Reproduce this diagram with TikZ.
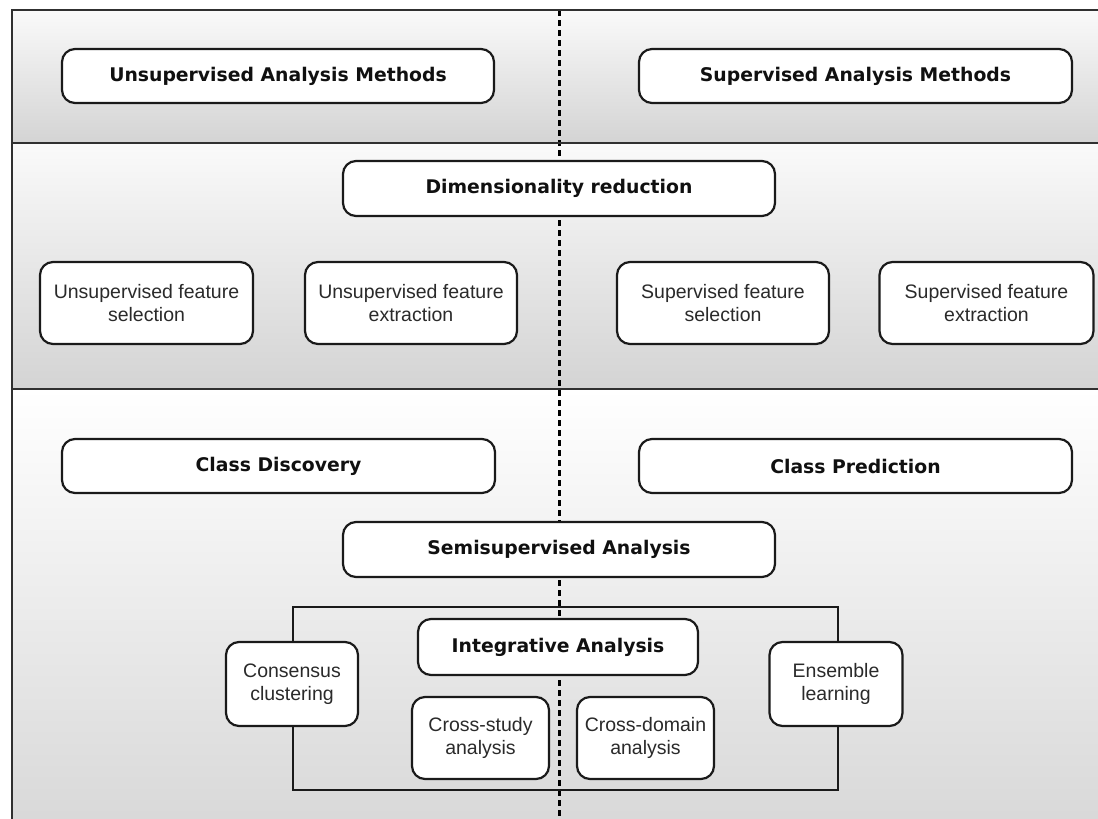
\documentclass[tikz,border=0pt]{standalone}
\usepackage{fontspec}
\newfontfamily\hdfont{DejaVu Sans}
\newfontfamily\txfont{Liberation Sans}
\definecolor{framec}{HTML}{303030}
\definecolor{boxline}{HTML}{1A1A1A}
\definecolor{txtc}{HTML}{101010}
\definecolor{rtxt}{HTML}{2A2A2A}
\tikzset{
  hbox/.style={draw=boxline, line width=2.2pt, fill=white, rounded corners=13pt,
    inner sep=0pt, align=center, text=txtc,
    font=\hdfont\bfseries\fontsize{18.8}{22}\selectfont},
  tbox/.style={draw=boxline, line width=2.2pt, fill=white, rounded corners=13pt,
    inner sep=0pt, align=center, text=rtxt,
    font=\txfont\fontsize{19.5}{22.5}\selectfont},
  frameline/.style={draw=framec, line width=2.8pt},
  divline/.style={draw=black, line width=3pt, dash pattern=on 6pt off 4pt}
}
\begin{document}
\begin{tikzpicture}[x=1pt,y=-1pt]
\useasboundingbox (0,0) rectangle (1098,819);
% bands
\shade[top color=black!2, bottom color=black!17] (12,10) rectangle (1098,143);
\shade[top color=black!2, bottom color=black!17] (12,143) rectangle (1098,389);
\shade[top color=white, bottom color=black!15] (12,389) rectangle (1098,819);
% dividing dashed line
\coordinate (dtop) at (559,10);
\coordinate (dbot) at (559,819);
\draw[divline] (dtop) -- (dbot);
% frame and separators
\coordinate (fl) at (12,819);
\coordinate (ftl) at (12,10);
\coordinate (ftr) at (1098,10);
\coordinate (s1l) at (12,143);
\coordinate (s1r) at (1098,143);
\coordinate (s2l) at (12,389);
\coordinate (s2r) at (1098,389);
\draw[frameline] (fl) -- (ftl) -- (ftr);
\draw[frameline] (s1l) -- (s1r);
\draw[frameline] (s2l) -- (s2r);
% band 1
\node[hbox, minimum width=432pt, minimum height=54pt] (uam) at (278,76) {Unsupervised Analysis Methods};
\node[hbox, minimum width=433pt, minimum height=54pt] (sam) at (855.5,76) {Supervised Analysis Methods};
% band 2
\node[hbox, minimum width=432pt, minimum height=55pt] (dim) at (559,188.5) {Dimensionality reduction};
\node[tbox, minimum width=213pt, minimum height=82pt] (ufs) at (146.5,303) {Unsupervised feature\\selection};
\node[tbox, minimum width=212pt, minimum height=82pt] (ufe) at (411,303) {Unsupervised feature\\extraction};
\node[tbox, minimum width=212pt, minimum height=82pt] (sfs) at (723,303) {Supervised feature\\selection};
\node[tbox, minimum width=214pt, minimum height=82pt] (sfe) at (986.5,303) {Supervised feature\\extraction};
% band 3
\node[hbox, minimum width=433pt, minimum height=54pt] (cd) at (278.5,466) {Class Discovery};
\node[hbox, minimum width=433pt, minimum height=54pt] (cp) at (855.5,466) {Class Prediction};
\node[hbox, minimum width=432pt, minimum height=55pt] (semi) at (559,549.5) {Semisupervised Analysis};
% integrative rectangle
\coordinate (rtl) at (293,607);
\coordinate (rbr) at (838,790);
\draw[draw=boxline, line width=2.2pt] (rtl) rectangle (rbr);
\node[tbox, minimum width=132pt, minimum height=84pt] (cons) at (292,684) {Consensus\\clustering};
\node[tbox, minimum width=133pt, minimum height=84pt] (ens) at (836,684) {Ensemble\\learning};
\node[hbox, minimum width=280pt, minimum height=56pt] (ia) at (558,647) {Integrative Analysis};
\node[tbox, minimum width=137pt, minimum height=82pt] (cs) at (480.5,738) {Cross-study\\analysis};
\node[tbox, minimum width=137pt, minimum height=82pt] (cdm) at (645.5,738) {Cross-domain\\analysis};
\end{tikzpicture}
\end{document}
